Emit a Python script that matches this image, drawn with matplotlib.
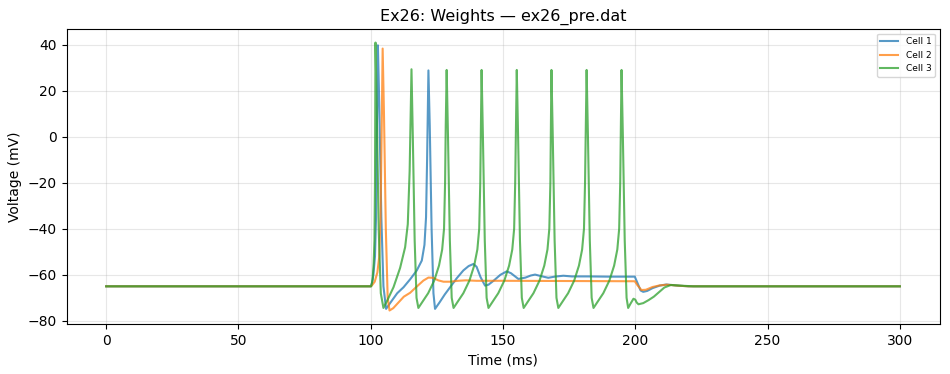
import matplotlib
matplotlib.use("Agg")
import matplotlib.pyplot as plt

# Cell 1 (blue) time (ms) / voltage (mV)
cell1_t = [0, 100.0, 100.5, 101.0, 101.6, 102.0, 102.3, 102.7, 103.2, 104.0, 104.8, 105.8,
           107.5, 110.0, 112.4, 115.0, 117.4, 119.3, 120.3, 120.9, 121.3, 121.8, 122.3, 123.0, 123.7, 124.3,
           126.0, 128.0, 130.0, 132.5, 135.0, 137.0, 138.8, 140.0, 141.5, 143.2, 144.5, 146.5, 149.0, 151.4,
           153.0, 155.8, 158.5, 160.5, 162.1, 164.5, 167.1, 169.5, 172.8, 176.0, 182.0, 190.0, 199.8,
           200.8, 202.0, 203.0, 204.5, 206.5, 209.2, 211.7, 215.0, 220.0, 300.0]
cell1_v = [-65, -65, -63.5, -60, -52, -35, 0, 39.7, 15, -35, -65, -74.8,
           -72, -68, -65.4, -61.8, -58.1, -53.8, -47, -35, -10, 28.8, 5, -40, -68, -74.8,
           -72, -68.5, -65.4, -61.5, -58.1, -56.2, -55.3, -56.5, -61, -64.7, -64.3, -62.5, -60, -58.5,
           -59.3, -61.8, -61.2, -60.3, -59.9, -60.6, -61.3, -60.8, -60.4, -60.7, -60.7, -60.8, -60.8,
           -63.5, -66.8, -67.4, -67.0, -65.8, -64.7, -64.2, -64.6, -65, -65]

# Cell 2 (orange)
cell2_t = [0, 100.0, 100.5, 101.5, 102.5, 103.2, 103.7, 104.1, 104.5, 105.0, 105.7, 106.4, 107.1,
           108.5, 110.5, 112.5, 114.9, 117.5, 119.9, 121.8, 123.5, 125.5, 127.5, 130.0, 133.0, 136.0,
           140.0, 150.0, 199.8, 200.8, 202.3, 204.0, 206.5, 209.2, 212.0, 216.0, 220.0, 300.0]
cell2_v = [-65, -65, -64.5, -63, -59, -52.3, -35, 0, 38.3, 10, -40, -70, -75.5,
           -74.5, -72, -69.5, -67.8, -65, -62.5, -61.2, -61.3, -62.4, -63.0, -63.0, -62.6, -62.4,
           -62.6, -62.6, -62.8, -64.5, -66.6, -66.5, -65.3, -64.6, -64.3, -64.7, -65, -65]

# Cell 3 (green)
cell3_t = [0, 100.2, 100.7, 101.1, 101.4, 101.6, 101.8, 102.3, 103.0, 103.8, 104.8,
           106.3, 108.6, 111.1, 113.0, 114.0, 114.7, 115.4,
           115.9, 116.6, 117.3, 118.0, 119.5, 121.7, 124.0, 125.8, 127.0, 127.7, 128.1, 128.35, 128.7,
           129.2, 129.9, 130.6, 131.3, 132.8, 135.0, 137.3, 139.1, 140.3, 141.0, 141.4, 141.65, 141.9,
           142.4, 143.1, 143.8, 144.5, 146.0, 148.2, 150.5, 152.3, 153.5, 154.2, 154.6, 154.9, 155.2,
           155.7, 156.4, 157.1, 157.8, 159.3, 161.5, 163.8, 165.6, 166.8, 167.5, 167.9, 168.1, 168.3,
           168.8, 169.5, 170.2, 170.9, 172.4, 174.6, 176.9, 178.7, 179.9, 180.6, 181.0, 181.3, 181.6,
           182.1, 182.8, 183.5, 184.2, 185.7, 187.9, 190.2, 192.0, 193.2, 193.9, 194.3, 194.55, 194.8,
           195.3, 196.0, 196.7, 197.3, 198.2, 199.3, 200.0, 200.5, 201.2, 203.0, 205.0, 207.0, 209.0,
           211.0, 213.5, 217.0, 222.0, 300.0]
cell3_v = [-65, -65, -62, -55, -45, -20, 40.9, 10, -40, -68, -74.4,
           -71, -65.4, -57, -48, -38, -15, 29.3,
           0, -45, -70, -74.4, -71.8, -68, -62.5, -56, -49, -40, -20, 5, 29,
           0, -45, -70, -74.4, -71.8, -68, -62.5, -56, -49, -40, -20, 5, 29,
           0, -45, -70, -74.4, -71.8, -68, -62.5, -56, -49, -40, -20, 5, 29,
           0, -45, -70, -74.4, -71.8, -68, -62.5, -56, -49, -40, -20, 5, 29,
           0, -45, -70, -74.4, -71.8, -68, -62.5, -56, -49, -40, -20, 5, 29,
           0, -45, -70, -74.4, -71.8, -68, -62.5, -56, -49, -40, -20, 5, 29,
           0, -45, -70, -74.4, -72.5, -70.4, -70.8, -72.0, -72.8, -72.3, -71.0, -69.5, -67.5,
           -65.5, -64.4, -64.7, -65, -65]

labels = ["Cell 1", "Cell 2", "Cell 3"]
colors = ["tab:blue", "tab:orange", "tab:green"]

fig, ax = plt.subplots(figsize=(9.5, 3.74), dpi=100)
fig.subplots_adjust(left=0.070, right=0.989, bottom=0.134, top=0.922)
for t, v, lab, c in zip([cell1_t, cell2_t, cell3_t], [cell1_v, cell2_v, cell3_v], labels, colors):
    ax.plot(t, v, color=c, lw=1.5, alpha=0.75, label=lab)

ax.set_title("Ex26: Weights \u2014 ex26_pre.dat", fontsize=11.5)
ax.set_xlabel("Time (ms)")
ax.set_ylabel("Voltage (mV)")
ax.grid(True, alpha=0.3)
ax.legend(loc="upper right", fontsize=6.5)
fig.savefig("out.png", dpi=100)
